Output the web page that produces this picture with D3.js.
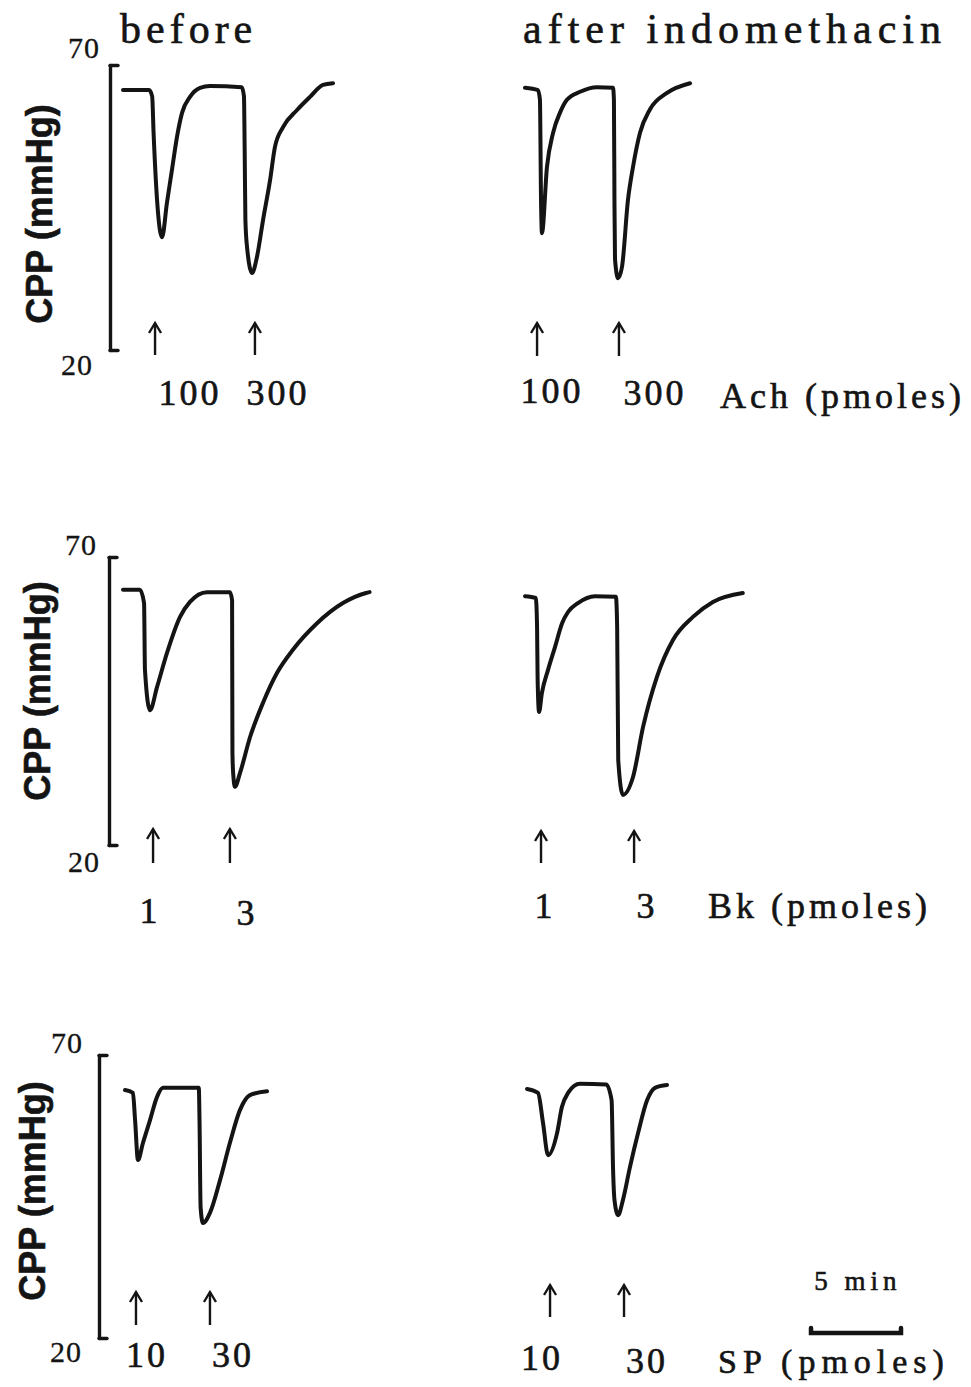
<!DOCTYPE html>
<html>
<head>
<meta charset="utf-8">
<script src="https://cdn.jsdelivr.net/npm/d3@7"></script>
<style>
  html, body { margin: 0; padding: 0; background: #fff; }
  svg text { fill: #141414; stroke: #141414; stroke-width: 0.6px; }
</style>
</head>
<body>
<div id="chart"></div>
<script>
// traces: [minutes from trace start, CPP mmHg]
const achBefore = [[0, 65.6], [1.45, 65.6], [1.62, 64.5], [1.7, 58], [2.17, 39.8], [2.44, 45.8], [2.72, 51.6],
  [3.0, 57.4], [3.28, 61.6], [3.72, 64.4], [4.28, 66.0], [4.83, 66.3], [6.6, 66.1], [6.72, 64.5], [6.76, 55],
  [6.8, 42.8], [6.89, 38.1], [7.17, 33.5], [7.44, 36.3], [7.78, 42.8], [8.17, 49.8], [8.44, 55.6], [8.89, 59.1],
  [9.67, 62.1], [10.39, 64.4], [11.11, 66.5], [11.67, 66.8]];
const achAfter = [[0, 66.0], [0.72, 65.6], [0.83, 63.9], [0.89, 46.3], [0.94, 40.5], [1.22, 52.1], [1.56, 58.1],
  [1.94, 61.6], [2.33, 63.9], [3.06, 65.3], [4.0, 66.1], [4.89, 66.0], [4.94, 63.9], [4.97, 46.3], [5.0, 36.0],
  [5.17, 32.6], [5.39, 34.6], [5.72, 46.3], [6.0, 52.1], [6.39, 58.1], [6.94, 62.2], [7.89, 65.1], [9.17, 66.8]];
const bkBefore = [[0, 64.3], [0.94, 64.3], [1.17, 62.0], [1.22, 50.4], [1.5, 43.4], [1.89, 47.4], [2.44, 53.3],
  [3.17, 59.6], [3.72, 62.2], [4.67, 63.9], [5.94, 63.9], [6.06, 62.5], [6.08, 36.0], [6.12, 32.5], [6.22, 30.1],
  [6.5, 32.5], [7.06, 38.75], [7.78, 44.7], [8.56, 49.9], [9.44, 53.9], [10.78, 58.5], [12.22, 62.0],
  [13.5, 63.75], [13.7, 63.9]];
const bkAfter = [[0, 63.2], [0.6, 62.9], [0.67, 58.0], [0.7, 49.0], [0.78, 43.1], [0.94, 46.4], [1.28, 50.4],
  [1.67, 54.4], [2.06, 58.5], [2.39, 60.45], [2.94, 62.0], [3.89, 63.2], [5.05, 63.1], [5.12, 57.85],
  [5.18, 34.75], [5.44, 28.7], [6.0, 31.8], [6.56, 40.5], [7.33, 49.2], [8.22, 55.6], [9.33, 59.6],
  [10.44, 62.2], [12.1, 63.75]];
const spBefore = [[0, 63.8], [0.44, 63.3], [0.56, 58.5], [0.72, 51.45], [1.0, 54.5], [1.39, 58.5], [1.78, 62.6],
  [2.11, 64.2], [4.1, 64.2], [4.14, 58.5], [4.2, 43.1], [4.33, 40.3], [4.72, 42.1], [5.28, 47.9], [5.83, 54.5],
  [6.39, 60.3], [6.94, 62.9], [7.89, 63.6]];
const spAfter = [[0, 64.0], [0.61, 63.3], [0.89, 58.0], [1.17, 52.3], [1.67, 56.2], [1.94, 60.8], [2.28, 63.3],
  [2.94, 64.9], [4.4, 64.8], [4.7, 62.0], [4.78, 50.0], [4.86, 44.4], [5.06, 41.7], [5.33, 44.4], [5.72, 50.2],
  [6.17, 56.2], [6.67, 62.0], [7.11, 64.2], [7.78, 64.7]];

// injection times (min) and doses
const achBeforeInj = [1.78, 7.33];
const achAfterInj = [0.67, 5.22];
const bkBeforeInj = [1.67, 5.94];
const bkAfterInj = [0.89, 6.06];
const spBeforeInj = [0.61, 4.72];
const spAfterInj = [1.28, 5.39];
const achDoses = ["100", "300"];
const bkDoses = ["1", "3"];
const spDoses = ["10", "30"];

const yTicks = [20, 70];
const columnTitles = ["before", "after indomethacin"];
const agentLabels = ["Ach (pmoles)", "Bk (pmoles)", "SP (pmoles)"];
const scaleMinutes = 5;

const W = 971, H = 1387;
const serif = "'Liberation Serif', 'Times New Roman', serif";
const pxPerMin = 18;

const svg = d3.select("#chart").append("svg").attr("width", W).attr("height", H);

const x = d3.scaleLinear().domain([0, 15]).range([0, 15 * pxPerMin]);

const rows = [
  { top: 65, bottom: 350, axisX: 110, yLabX: 52, yLabY: 214,
    t70: [-10, -7], t20: [-17, 25], agent: [720, 408], agentLs: 4,
    panels: [
      { x0: 123, data: achBefore, inj: achBeforeInj, doses: achDoses, arrow: [323, 355], lab: [[35, 405], [23, 405]] },
      { x0: 525, data: achAfter, inj: achAfterInj, doses: achDoses, arrow: [323, 356], lab: [[15, 403], [36, 405]] }
    ] },
  { top: 557, bottom: 845, axisX: 109, yLabX: 50, yLabY: 691,
    t70: [-12, -2], t20: [-9, 27], agent: [708, 918], agentLs: 4,
    panels: [
      { x0: 123, data: bkBefore, inj: bkBeforeInj, doses: bkDoses, arrow: [829, 863], lab: [[-3, 923], [17, 925]] },
      { x0: 525, data: bkAfter, inj: bkAfterInj, doses: bkDoses, arrow: [831, 863], lab: [[4, 918], [13, 918]] }
    ] },
  { top: 1055, bottom: 1338, axisX: 99, yLabX: 45, yLabY: 1191,
    t70: [-16, -2], t20: [-17, 24], agent: [718, 1373], agentLs: 6,
    panels: [
      { x0: 125, data: spBefore, inj: spBeforeInj, doses: spDoses, arrow: [1292, 1325], lab: [[11, 1367], [23, 1367]] },
      { x0: 527, data: spAfter, inj: spAfterInj, doses: spDoses, arrow: [1285, 1317], lab: [[-8, 1370], [23, 1373]] }
    ] }
];

const line = d3.line().curve(d3.curveMonotoneX);

// column titles
svg.append("text").text(columnTitles[0]).attr("x", 120).attr("y", 43)
  .style("font-family", serif).style("font-size", "42px").style("letter-spacing", "5px");
svg.append("text").text(columnTitles[1]).attr("x", 523).attr("y", 43)
  .style("font-family", serif).style("font-size", "42px").style("letter-spacing", "6px");

rows.forEach((row, ri) => {
  const y = d3.scaleLinear().domain([20, 70]).range([row.bottom, row.top]);

  // calibration bracket
  const ax = svg.append("g").attr("transform", `translate(${row.axisX},0)`)
    .call(d3.axisRight(y).tickValues(yTicks).tickSizeInner(8).tickSizeOuter(0).tickFormat(""));
  ax.selectAll("path, line").attr("stroke", "#141414").attr("stroke-width", 3.4).attr("stroke-linecap", "round");

  yTicks.forEach(v => {
    const off = v === 70 ? row.t70 : row.t20;
    svg.append("text").text(v).attr("x", row.axisX + off[0]).attr("y", y(v) + off[1])
      .attr("text-anchor", "end")
      .style("font-family", serif).style("font-size", "30px").style("letter-spacing", "1px")
      .style("stroke-width", "0.3px");
  });

  svg.append("text").text("CPP (mmHg)")
    .attr("transform", `translate(${row.yLabX},${row.yLabY}) rotate(-90)`)
    .attr("text-anchor", "middle")
    .style("font-family", "'Liberation Sans', Arial, sans-serif")
    .style("font-weight", "bold").style("font-size", "36px");

  row.panels.forEach(p => {
    const g = svg.append("g").attr("transform", `translate(${p.x0},0)`);
    g.append("path")
      .attr("d", line(p.data.map(d => [x(d[0]), y(d[1])])))
      .attr("fill", "none").attr("stroke", "#141414").attr("stroke-width", 4)
      .attr("stroke-linejoin", "round").attr("stroke-linecap", "round");

    p.inj.forEach((t, i) => {
      const ax0 = x(t);
      const a = g.append("g").attr("fill", "none").attr("stroke", "#141414").attr("stroke-width", 2.4);
      a.append("line").attr("x1", ax0).attr("x2", ax0).attr("y1", p.arrow[0]).attr("y2", p.arrow[1]);
      a.append("path").attr("d", `M${ax0 - 6},${p.arrow[0] + 10}L${ax0},${p.arrow[0]}L${ax0 + 6},${p.arrow[0] + 10}`);

      g.append("text").text(p.doses[i])
        .attr("x", ax0 + p.lab[i][0]).attr("y", p.lab[i][1])
        .attr("text-anchor", "middle")
        .style("font-family", serif).style("font-size", "36px").style("letter-spacing", "3px");
    });
  });

  svg.append("text").text(agentLabels[ri]).attr("x", row.agent[0]).attr("y", row.agent[1])
    .style("font-family", serif).style("font-size", ri === 2 ? "34px" : "36px")
    .style("letter-spacing", row.agentLs + "px");
});

// time scale bar
const sb = svg.append("g").attr("transform", "translate(811,1333)");
sb.append("path")
  .attr("d", `M${x(0)},-5L${x(0)},0L${x(scaleMinutes)},0L${x(scaleMinutes)},-5`)
  .attr("fill", "none").attr("stroke", "#141414").attr("stroke-width", 4.5).attr("stroke-linecap", "round");
sb.append("text").text(scaleMinutes + " min").attr("x", x(scaleMinutes) / 2 + 2).attr("y", -43)
  .attr("text-anchor", "middle")
  .style("font-family", serif).style("font-size", "27px").style("letter-spacing", "5px");
</script>
</body>
</html>
